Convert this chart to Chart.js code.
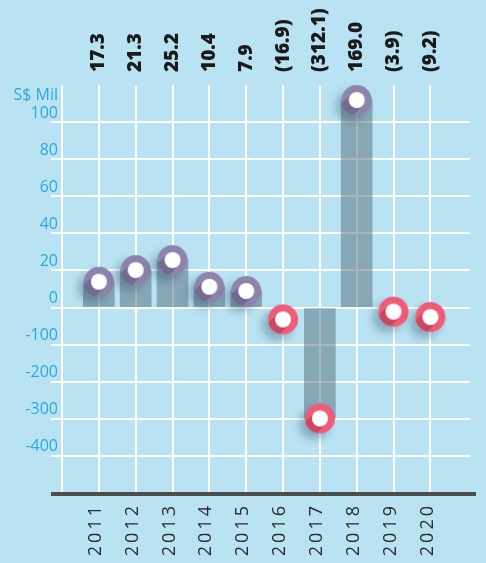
<!DOCTYPE html>
<html>
<head>
<meta charset="utf-8">
<script src="https://cdn.jsdelivr.net/npm/chart.js@4.4.0/dist/chart.umd.min.js"></script>
<style>
  html, body { margin: 0; padding: 0; background: #b9e3f3; }
  #wrap { width: 486px; height: 563px; }
</style>
</head>
<body>
<div id="wrap"><canvas id="chart" width="486" height="563"></canvas></div>
<script>
// data
const years = ['2011', '2012', '2013', '2014', '2015', '2016', '2017', '2018', '2019', '2020'];
const valueLabels = ['17.3', '21.3', '25.2', '10.4', '7.9', '(16.9)', '(312.1)', '169.0', '(3.9)', '(9.2)'];
// positions as drawn in the picture (S$ Mil)
const markerValues = [13.9, 20.2, 25.6, 11.2, 8.9, -32, -299, 111.9, -11, -25.6];
const barValues = [13.9, 20.2, 25.6, 11.2, 8.9, null, -299, 111.9, null, null];
const yTicks = [100, 80, 60, 40, 20, 0, -100, -200, -300, -400];

// broken axis: below zero the scale is squeezed 5x
const toAxis = v => (v < 0 ? v / 5 : v);
const fromAxis = v => (v < 0 ? Math.round(v * 5) : v);

function makeMarker(ring, shade) {
  const c = document.createElement('canvas');
  c.width = 64; c.height = 64;
  const g = c.getContext('2d');
  const cx = 32, cy = 32;
  g.save();
  g.shadowColor = 'rgba(40,70,90,0.35)';
  g.shadowBlur = 8;
  g.shadowOffsetX = -6;
  g.shadowOffsetY = 6;
  g.fillStyle = ring;
  g.beginPath(); g.arc(cx, cy, 15, 0, Math.PI * 2); g.fill();
  g.restore();
  // long shadow of the white dot inside the ring
  g.save();
  g.beginPath(); g.arc(cx, cy, 15, 0, Math.PI * 2); g.clip();
  g.fillStyle = shade;
  g.translate(cx, cy);
  g.rotate(Math.PI / 4);
  g.fillRect(-8, 0, 16, 30);
  g.restore();
  g.fillStyle = '#ffffff';
  g.beginPath(); g.arc(cx, cy, 8, 0, Math.PI * 2); g.fill();
  return c;
}
const upMarker = makeMarker('#8d84ab', 'rgba(50,35,80,0.28)');
const downMarker = makeMarker('#ef5b78', 'rgba(110,20,40,0.28)');

const idx = years.map((y, i) => i + 1);
const xMax = 11.075;

const decor = {
  id: 'decor',
  afterDatasetsDraw(chart) {
    chart.ctx.letterSpacing = '3px';
  },
  afterDraw(chart) {
    const { ctx, chartArea } = chart;
    ctx.letterSpacing = '0px';
    ctx.save();
    ctx.fillStyle = '#4d4d4d';
    ctx.fillRect(chartArea.left - 11, chartArea.bottom - 1, chartArea.right - chartArea.left + 17, 4);
    ctx.fillStyle = '#2aa8df';
    ctx.font = '16px "Open Sans"';
    ctx.textAlign = 'right';
    ctx.textBaseline = 'middle';
    ctx.fillText('S$ Mil', chartArea.left - 4, chartArea.top + 10);
    ctx.restore();
  }
};

new Chart(document.getElementById('chart'), {
  type: 'bar',
  data: {
    datasets: [{
      type: 'line',
      data: idx.map((x, i) => ({ x: x, y: toAxis(markerValues[i]) })),
      showLine: false,
      pointRadius: 15,
      pointHoverRadius: 15,
      pointStyle: markerValues.map(v => (v < 0 ? downMarker : upMarker)),
      clip: false,
      order: 0
    }, {
      type: 'bar',
      data: idx.map((x, i) => ({ x: x, y: barValues[i] === null ? null : toAxis(barValues[i]) })),
      backgroundColor: 'rgba(84,108,122,0.5)',
      borderWidth: 0,
      barThickness: 31,
      order: 1
    }]
  },
  options: {
    responsive: false,
    animation: false,
    layout: { padding: { left: 0, right: 12, top: 0, bottom: 0 } },
    plugins: {
      legend: { display: false },
      tooltip: { enabled: false }
    },
    scales: {
      x: {
        type: 'linear',
        position: 'bottom',
        min: 0,
        max: xMax,
        offset: false,
        afterBuildTicks: s => { s.ticks = [0, ...idx].map(v => ({ value: v })); },
        afterFit: s => { s.height = 70; },
        grid: { color: '#ffffff', lineWidth: 2, drawTicks: false, offset: false },
        border: { display: false },
        ticks: {
          autoSkip: false,
          minRotation: 90,
          maxRotation: 90,
          padding: 10,
          labelOffset: -3,
          z: 1,
          color: '#2b2b2b',
          font: { family: '"Open Sans"', size: 18, weight: 400 },
          callback: v => years[v - 1] || ''
        }
      },
      x2: {
        type: 'linear',
        position: 'top',
        min: 0,
        max: xMax,
        offset: false,
        afterBuildTicks: s => { s.ticks = idx.map(v => ({ value: v })); },
        afterFit: s => { s.height = 85; },
        grid: { display: false, drawTicks: false, offset: false },
        border: { display: false },
        ticks: {
          autoSkip: false,
          minRotation: 90,
          maxRotation: 90,
          padding: 13,
          labelOffset: 23,
          color: '#1a1a1a',
          font: { family: '"Open Sans"', size: 19, weight: 800 },
          callback: v => valueLabels[v - 1] || ''
        }
      },
      y: {
        type: 'linear',
        min: -100,
        max: 120,
        afterBuildTicks: s => { s.ticks = yTicks.map(v => ({ value: toAxis(v) })); },
        afterFit: s => { s.width = 62; },
        grid: { color: '#ffffff', lineWidth: 2, tickLength: 11, tickColor: '#ffffff' },
        border: { display: false },
        ticks: {
          padding: -7,
          labelOffset: -9,
          color: '#2aa8df',
          font: { family: '"Open Sans"', size: 16 },
          callback: v => fromAxis(v)
        }
      }
    }
  },
  plugins: [decor]
});
</script>
</body>
</html>
